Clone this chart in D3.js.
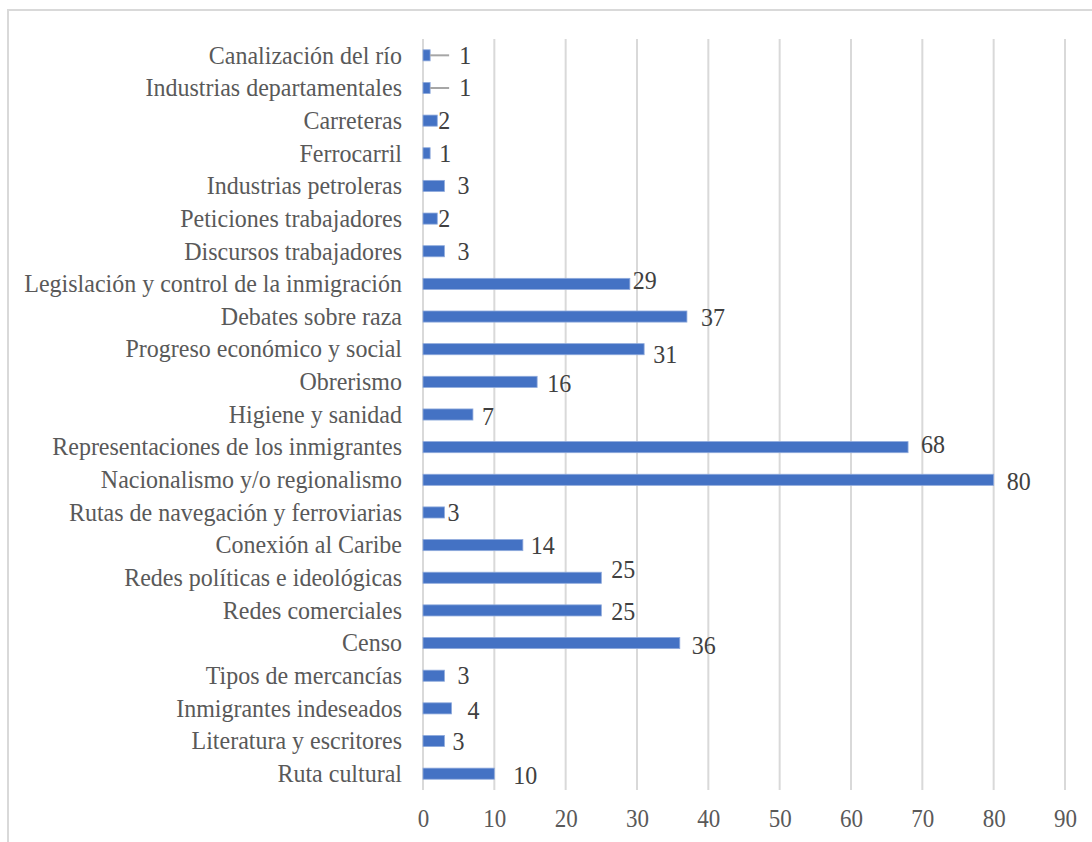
<!DOCTYPE html>
<html lang="es">
  <head>
    <meta charset="utf-8">
    <title>Temas</title>
    <script src="https://cdn.jsdelivr.net/npm/d3@7"></script>
    <style>
      body { margin: 0; background: #fff; }
      svg text { font-family: "Liberation Serif", "Times New Roman", Times, serif !important; }
    </style>
  </head>
  <body>
    <script type="text/javascript">
      // categories, top to bottom
      var categories = [
        "Canalización del río",
        "Industrias departamentales",
        "Carreteras",
        "Ferrocarril",
        "Industrias petroleras",
        "Peticiones trabajadores",
        "Discursos trabajadores",
        "Legislación y control de la inmigración",
        "Debates sobre raza",
        "Progreso económico y social",
        "Obrerismo",
        "Higiene y sanidad",
        "Representaciones de los inmigrantes",
        "Nacionalismo y/o regionalismo",
        "Rutas de navegación y ferroviarias",
        "Conexión al Caribe",
        "Redes políticas e ideológicas",
        "Redes comerciales",
        "Censo",
        "Tipos de mercancías",
        "Inmigrantes indeseados",
        "Literatura y escritores",
        "Ruta cultural"
      ];
      var values = [1, 1, 2, 1, 3, 2, 3, 29, 37, 31, 16, 7, 68, 80, 3, 14, 25, 25, 36, 3, 4, 3, 10];
      var ticks = [0, 10, 20, 30, 40, 50, 60, 70, 80, 90];

      // data labels were dragged around by hand in the original, so nudge each one
      var labelDx = [29, 29, 1, 9, 13, 1, 13, 3, 14, 9, 10, 9, 13, 13, 3, 8, 10, 10, 12, 13, 16, 8, 19];
      var labelDy = [0, 0, 0, 0, 0, 0, 0, -3, 1, 6, 2, 2, -2, 2, 0, 1, -8, 1, 3, 0, 2, 1, 2];
      var leaderLine = [1, 1, 0, 0, 0, 0, 0, 0, 0, 0, 0, 0, 0, 0, 0, 0, 0, 0, 0, 0, 0, 0, 0];

      var w = 1092, h = 842;
      var plotLeft = 423, plotRight = 1065, plotTop = 39, plotBottom = 790;
      var stretch = 1.08;   // the source text is a little taller than plain Times

      var svg = d3.select("body").append("svg")
                  .attr("width", w)
                  .attr("height", h);

      // chart frame (right and bottom edges fall outside the picture)
      svg.append("path")
         .attr("d", "M8," + (h + 5) + "V10H" + (w + 5))
         .attr("fill", "none")
         .attr("stroke", "#d9d9d9")
         .attr("stroke-width", 2);

      var x = d3.scaleLinear().domain([0, 90]).range([plotLeft, plotRight]);
      var y = d3.scaleBand().domain(categories).range([plotTop, plotBottom]).paddingInner(0.66).paddingOuter(0.33);

      // vertical gridlines
      svg.append("g")
         .selectAll("line")
         .data(ticks)
         .enter()
         .append("line")
         .attr("x1", function(d) { return x(d); })
         .attr("x2", function(d) { return x(d); })
         .attr("y1", plotTop)
         .attr("y2", plotBottom)
         .attr("stroke", "#d9d9d9")
         .attr("stroke-width", 2);

      // x axis labels
      var xAxis = d3.axisBottom(x).tickValues(ticks).tickSize(0).tickPadding(0);
      var gx = svg.append("g")
                  .attr("transform", "translate(0," + plotBottom + ")")
                  .call(xAxis);
      gx.select(".domain").remove();
      gx.selectAll("text")
        .attr("dy", null)
        .attr("y", 37 / stretch)
        .attr("transform", "scale(1," + stretch + ")")
        .attr("fill", "#595959")
        .style("font-size", "23px");

      // category labels
      var yAxis = d3.axisLeft(y).tickSize(0).tickPadding(21);
      var gy = svg.append("g")
                  .attr("transform", "translate(" + plotLeft + ",0)")
                  .call(yAxis);
      gy.select(".domain").remove();
      gy.selectAll("text")
        .attr("dy", "0.32em")
        .attr("transform", "scale(1," + stretch + ")")
        .attr("fill", "#595959")
        .style("font-size", "24px");

      function mid(i) { return y(categories[i]) + y.bandwidth() / 2; }

      // bars
      svg.append("g")
         .selectAll("rect")
         .data(values)
         .enter()
         .append("rect")
         .attr("x", x(0))
         .attr("y", function(d, i) { return y(categories[i]); })
         .attr("width", function(d) { return x(d) - x(0); })
         .attr("height", y.bandwidth())
         .attr("fill", "#4472c4")
         .attr("stroke", "#8faadc")
         .attr("stroke-width", 0.8);

      // leader lines for labels pushed away from tiny bars
      svg.append("g")
         .selectAll("line")
         .data(values)
         .enter()
         .filter(function(d, i) { return leaderLine[i]; })
         .append("line")
         .attr("x1", function(d) { return x(d); })
         .attr("x2", function(d) { return x(d) + 19; })
         .attr("y1", function(d, i) { return mid(i); })
         .attr("y2", function(d, i) { return mid(i); })
         .attr("stroke", "#a6a6a6")
         .attr("stroke-width", 2);

      // data labels
      svg.append("g")
         .selectAll("text")
         .data(values)
         .enter()
         .append("text")
         .attr("transform", function(d, i) {
           return "translate(" + (x(d) + labelDx[i]) + "," + (mid(i) + labelDy[i]) + ") scale(1," + stretch + ")";
         })
         .attr("dy", "0.32em")
         .attr("fill", "#404040")
         .style("font-size", "24px")
         .text(function(d) { return d; });
    </script>
  </body>
</html>
